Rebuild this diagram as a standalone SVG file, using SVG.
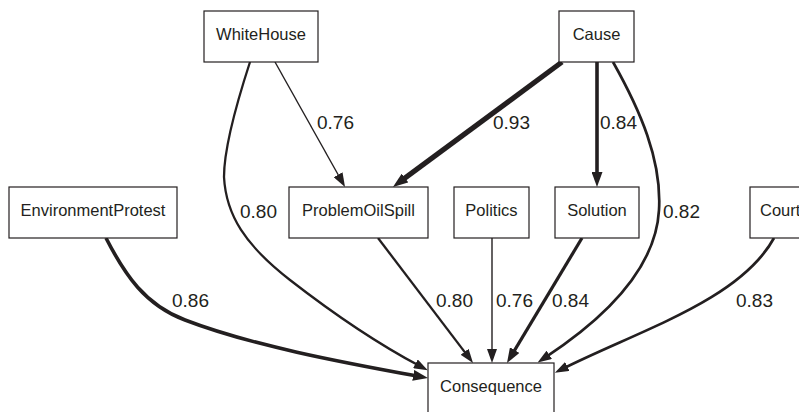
<svg xmlns="http://www.w3.org/2000/svg" width="799" height="412" viewBox="0 0 799 412">
<style>
  .box{fill:#fff;stroke:#231f20;stroke-width:1.2}
  .nt{font-family:"Liberation Sans",Arial,sans-serif;font-size:16.5px;fill:#231f20;text-anchor:middle}
  .lb{font-family:"Liberation Sans",Arial,sans-serif;font-size:19px;fill:#231f20}
  .e{fill:none;stroke:#231f20}
</style>
<defs>
  <marker id="ah" markerUnits="userSpaceOnUse" markerWidth="14" markerHeight="10" refX="6" refY="5" orient="auto" viewBox="0 0 14 10">
    <path d="M0,0 L14,5 L0,10 z" fill="#231f20"/>
  </marker>
  <marker id="ahL" markerUnits="userSpaceOnUse" markerWidth="15" markerHeight="11" refX="7" refY="5.5" orient="auto" viewBox="0 0 15 11">
    <path d="M0,0 L15,5.5 L0,11 z" fill="#231f20"/>
  </marker>
</defs>
<rect width="799" height="412" fill="#fff"/>
<g id="connectors">
  <path class="e" style="stroke-width:1.4" d="M275,62 L341.1,180" marker-end="url(#ah)"/>
  <path class="e" style="stroke-width:5.2" d="M562,62 L399.4,182.2" marker-end="url(#ahL)"/>
  <path class="e" style="stroke-width:3.6" d="M597,62 L597,179" marker-end="url(#ahL)"/>
  <path class="e" style="stroke-width:2.3" d="M250,62 C236,105 224,148 224,177 C226,215 245,245 290,280 C335,315 380,345 420.7,366.6" marker-end="url(#ah)"/>
  <path class="e" style="stroke-width:3.6" d="M106,238 C125,275 145,305 185,320 C250,345 340,362 420.1,376.6" marker-end="url(#ahL)"/>
  <path class="e" style="stroke-width:2.3" d="M378,238 L468.2,356.6" marker-end="url(#ah)"/>
  <path class="e" style="stroke-width:1.4" d="M492,238 L492,355" marker-end="url(#ah)"/>
  <path class="e" style="stroke-width:3.2" d="M582,238 L511.1,356.1" marker-end="url(#ahL)"/>
  <path class="e" style="stroke-width:2.7" d="M613,62 C640,110 662,160 659,210 C656,265 610,315 544.3,358.1" marker-end="url(#ah)"/>
  <path class="e" style="stroke-width:2.7" d="M774,238 C740,300 640,330 562,369.1" marker-end="url(#ah)"/>
  <text class="lb" x="317" y="129">0.76</text>
  <text class="lb" x="493" y="129">0.93</text>
  <text class="lb" x="600" y="129">0.84</text>
  <text class="lb" x="240" y="218">0.80</text>
  <text class="lb" x="663" y="218">0.82</text>
  <text class="lb" x="172" y="307">0.86</text>
  <text class="lb" x="436" y="307">0.80</text>
  <text class="lb" x="496" y="307">0.76</text>
  <text class="lb" x="552" y="307">0.84</text>
  <text class="lb" x="736" y="307">0.83</text>
</g>
<g id="WhiteHouse"><rect class="box" x="204" y="11" width="114" height="51"/><text class="nt" x="261" y="40">WhiteHouse</text></g>
<g id="Cause"><rect class="box" x="559" y="11" width="75" height="51"/><text class="nt" x="596.5" y="40">Cause</text></g>
<g id="EnvironmentProtest"><rect class="box" x="9" y="187" width="168" height="51"/><text class="nt" x="93" y="216">EnvironmentProtest</text></g>
<g id="ProblemOilSpill"><rect class="box" x="289" y="187" width="139" height="51"/><text class="nt" x="358.5" y="216">ProblemOilSpill</text></g>
<g id="Politics"><rect class="box" x="454" y="187" width="75" height="51"/><text class="nt" x="491.5" y="216">Politics</text></g>
<g id="Solution"><rect class="box" x="555" y="187" width="84" height="51"/><text class="nt" x="597" y="216">Solution</text></g>
<g id="Court"><rect class="box" x="750" y="187" width="70" height="51"/><text class="nt" x="760" y="216" style="text-anchor:start">Court</text></g>
<g id="Consequence"><rect class="box" x="428" y="363" width="126" height="60"/><text class="nt" x="491" y="392">Consequence</text></g>
</svg>
